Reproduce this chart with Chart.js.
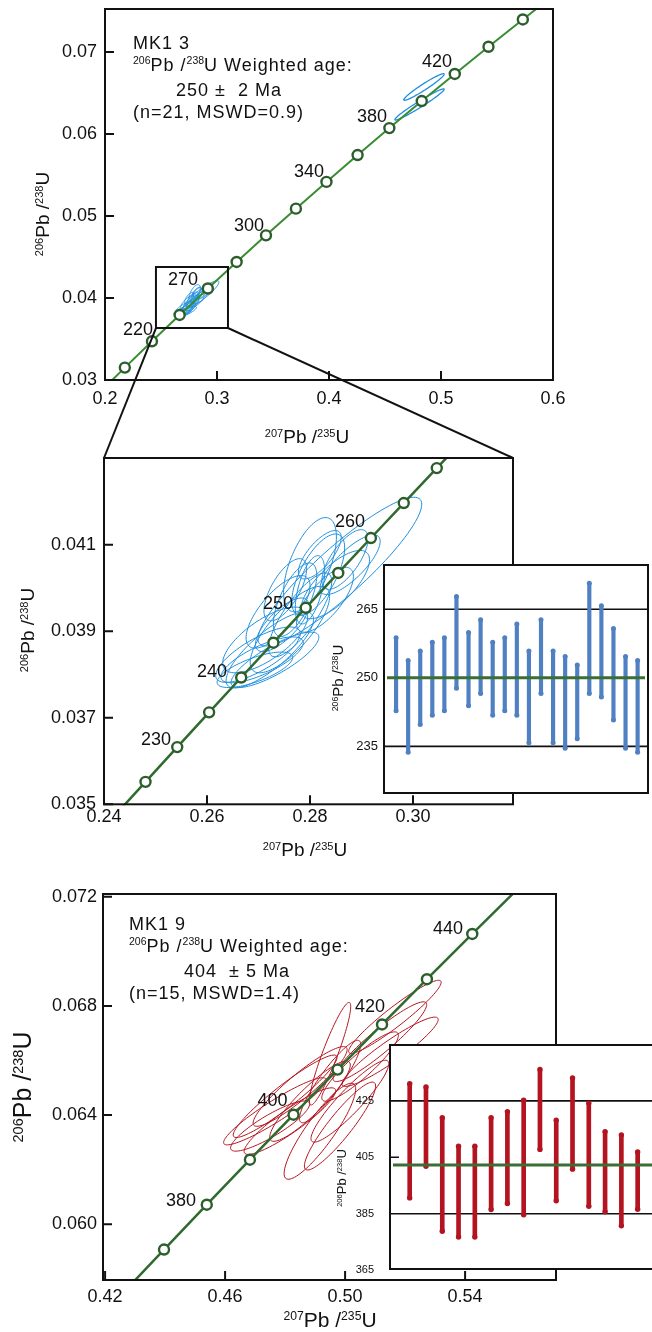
<!DOCTYPE html>
<html>
<head>
<meta charset="utf-8">
<script src="https://cdn.jsdelivr.net/npm/chart.js@4.4.1/dist/chart.umd.min.js"></script>
<style>
html, body { margin: 0; padding: 0; background: #fff; overflow: hidden; }
#page { position: relative; width: 652px; height: 1332px; overflow: hidden; font-family: "Liberation Sans", Arial, sans-serif; color: #111; }
canvas { position: absolute; }
svg { position: absolute; left: 0; top: 0; }
.note { position: absolute; white-space: nowrap; font-size: 18px; line-height: 22.3px; letter-spacing: 1px; }
.s { font-size: 10.5px; position: relative; top: -7px; letter-spacing: 0; }
.ax { position: absolute; white-space: nowrap; line-height: 1; transform: translate(-50%, -50%); }
.ax.r { transform: translate(-50%, -50%) rotate(-90deg); }
.ax .s { font-size: 0.58em; top: -0.55em; }
</style>
</head>
<body>
<div id="page">
  <canvas id="cTop" width="652" height="440" style="left:0;top:0"></canvas>
  <canvas id="cMid" width="652" height="440" style="left:0;top:440px"></canvas>
  <canvas id="cBot" width="652" height="452" style="left:0;top:880px"></canvas>
  <canvas id="cMidIn" width="352" height="260" style="left:300px;top:550px"></canvas>
  <canvas id="cBotIn" width="362" height="250" style="left:300px;top:1030px"></canvas>
  <svg id="zoomLines" width="652" height="1332"></svg>

  <div class="note" style="left:133px;top:32px">MK1 3<br><span class="s">206</span>Pb /<span class="s">238</span>U Weighted age:<br><span style="padding-left:43px">250 ±&nbsp; 2 Ma</span><br>(n=21, MSWD=0.9)</div>
  <div class="note" style="left:129px;top:913px">MK1 9<br><span class="s">206</span>Pb /<span class="s">238</span>U Weighted age:<br><span style="padding-left:55px">404 &nbsp;± 5 Ma</span><br>(n=15, MSWD=1.4)</div>

  <div class="ax" style="left:307px;top:436px;font-size:19px"><span class="s">207</span>Pb /<span class="s">235</span>U</div>
  <div class="ax r" style="left:42px;top:214px;font-size:19px"><span class="s">206</span>Pb /<span class="s">238</span>U</div>
  <div class="ax" style="left:305px;top:849px;font-size:19px"><span class="s">207</span>Pb /<span class="s">235</span>U</div>
  <div class="ax r" style="left:27px;top:630px;font-size:19px"><span class="s">206</span>Pb /<span class="s">238</span>U</div>
  <div class="ax" style="left:330px;top:1319px;font-size:21px"><span class="s">207</span>Pb /<span class="s">235</span>U</div>
  <div class="ax r" style="left:22px;top:1087px;font-size:25px"><span class="s">206</span>Pb /<span class="s">238</span>U</div>
  <div class="ax r" style="left:337px;top:678px;font-size:15px"><span class="s">206</span>Pb /<span class="s">238</span>U</div>
  <div class="ax r" style="left:341px;top:1178px;font-size:13px"><span class="s">206</span>Pb /<span class="s">238</span>U</div>
</div>

<script>
// concordia points (207Pb/235U, 206Pb/238U) at the marked ages
var topCurveX = [0.19396, 0.21771, 0.24192, 0.26664, 0.29183, 0.31753, 0.34374, 0.37047, 0.39773, 0.42553, 0.45389, 0.48281, 0.51231, 0.54239, 0.57307, 0.60436];
var topCurveY = [0.028317, 0.031511, 0.034717, 0.037932, 0.041157, 0.044392, 0.047638, 0.050892, 0.054158, 0.057433, 0.060719, 0.064015, 0.067321, 0.070637, 0.073965, 0.077301];
var midCurveX = [0.24192, 0.24806, 0.25422, 0.26041, 0.26664, 0.27289, 0.27917, 0.28549, 0.29183, 0.29821, 0.30462, 0.31106];
var midCurveY = [0.034717, 0.035519, 0.036323, 0.037126, 0.037932, 0.038737, 0.039543, 0.040349, 0.041157, 0.041965, 0.042773, 0.043582];
var botCurveX = [0.42553, 0.43964, 0.45389, 0.46828, 0.48281, 0.49749, 0.51231, 0.52728, 0.54239, 0.55766, 0.57307];
var botCurveY = [0.057433, 0.059075, 0.060719, 0.062366, 0.064015, 0.065668, 0.067321, 0.068978, 0.070637, 0.072299, 0.073965];

// age labels on the curves
var topLabels = ['220', '270', '300', '340', '380', '420'];
var topLabelX = [0.2295, 0.2696, 0.3286, 0.3821, 0.4384, 0.4964];
var topLabelY = [0.0361, 0.0422, 0.04878, 0.05537, 0.06207, 0.06878];
var midLabels = ['230', '240', '250', '260'];
var midLabelX = [0.2501, 0.26097, 0.27379, 0.28777];
var midLabelY = [0.03649, 0.03806, 0.03964, 0.04153];
var botLabels = ['380', '400', '420', '440'];
var botLabelX = [0.4453, 0.4758, 0.5083, 0.5343];
var botLabelY = [0.06087, 0.06451, 0.06796, 0.0708];

// MK13 error ellipses: centre, half widths, rho
var mkAX = [0.2858, 0.2800, 0.2816, 0.2752, 0.2738, 0.2713, 0.2699, 0.2707, 0.2722, 0.2761, 0.2781, 0.2849, 0.2878, 0.2829, 0.2771, 0.2800, 0.2746, 0.2693, 0.2732, 0.2819, 0.2868];
var mkAY = [0.04038, 0.04054, 0.04031, 0.03996, 0.03945, 0.03880, 0.03846, 0.03834, 0.03857, 0.03904, 0.03938, 0.04008, 0.04054, 0.03973, 0.03973, 0.03996, 0.03915, 0.03811, 0.03834, 0.04077, 0.04066];
var mkASX = [0.01590, 0.00513, 0.00513, 0.00414, 0.00621, 0.00825, 0.00821, 0.00800, 0.00849, 0.00771, 0.00612, 0.00666, 0.00583, 0.00553, 0.00421, 0.00285, 0.00518, 0.00734, 0.00852, 0.00416, 0.00449];
var mkASY = [0.00172, 0.00109, 0.00094, 0.00072, 0.00084, 0.00076, 0.00064, 0.00053, 0.00088, 0.00100, 0.00097, 0.00079, 0.00069, 0.00075, 0.00085, 0.00079, 0.00062, 0.00041, 0.00064, 0.00056, 0.00069];
var mkARho = [0.905, 0.588, 0.657, 0.673, 0.719, 0.703, 0.757, 0.742, 0.803, 0.765, 0.797, 0.724, 0.782, 0.719, 0.659, 0.540, 0.724, 0.700, 0.818, 0.718, 0.703];
// two older grains near 400-420 Ma
var oldX = [0.4848, 0.4808];
var oldY = [0.06573, 0.0636];
var oldSX = [0.0180, 0.0220];
var oldSY = [0.00162, 0.0019];
var oldRho = [0.963, 0.974];
// MK19 error ellipses
var mkBX = [0.4800, 0.4766, 0.4850, 0.4883, 0.4816, 0.4916, 0.4983, 0.4950, 0.4950, 0.5116, 0.5166, 0.5150, 0.5050, 0.4750, 0.5016];
var mkBY = [0.06469, 0.06414, 0.06505, 0.06451, 0.06378, 0.06341, 0.06360, 0.06523, 0.06625, 0.06669, 0.06760, 0.06632, 0.06578, 0.06360, 0.06451];
var mkBSX = [0.01730, 0.01710, 0.01567, 0.01343, 0.01527, 0.01193, 0.01187, 0.01020, 0.00687, 0.01560, 0.01543, 0.01603, 0.01277, 0.01317, 0.01297];
var mkBSY = [0.00151, 0.00123, 0.00146, 0.00147, 0.00122, 0.00176, 0.00161, 0.00151, 0.00188, 0.00146, 0.00134, 0.00127, 0.00127, 0.00092, 0.00150];
var mkBRho = [0.940, 0.930, 0.920, 0.900, 0.910, 0.880, 0.910, 0.900, 0.920, 0.930, 0.945, 0.930, 0.900, 0.870, 0.915];

// zoom box drawn on the upper plot
var zoomBoxX = [0.2455, 0.3098];
var zoomBoxY = [0.03634, 0.04378];

// 206Pb/238U ages (Ma), error bar ends
var mkALo = [242.8, 233.7, 239.8, 241.8, 242.8, 247.7, 243.9, 246.6, 241.8, 242.8, 241.8, 235.8, 246.6, 235.8, 234.6, 236.7, 246.6, 245.8, 240.8, 234.6, 233.7];
var mkAHi = [258.8, 253.8, 255.9, 257.8, 258.8, 267.8, 259.9, 262.7, 257.8, 258.8, 261.8, 255.9, 262.7, 255.9, 254.7, 252.8, 270.7, 265.8, 260.8, 254.7, 253.8];
var mkBLo = [390.6, 401.8, 378.8, 376.7, 376.7, 386.5, 388.6, 384.6, 407.8, 389.6, 400.8, 387.6, 385.7, 380.7, 386.6];
var mkBHi = [431.1, 429.9, 419.0, 408.9, 408.9, 419.0, 421.2, 425.2, 436.1, 418.1, 433.1, 424.2, 414.1, 412.9, 406.9];
var mkAMean = 250;
var mkBMean = 402.3;

// tick values
var topXTicks = [0.2, 0.3, 0.4, 0.5, 0.6];
var topYTicks = [0.03, 0.04, 0.05, 0.06, 0.07];
var midXTicks = [0.24, 0.26, 0.28, 0.30];
var midYTicks = [0.035, 0.037, 0.039, 0.041];
var botXTicks = [0.42, 0.46, 0.50, 0.54];
var botYTicks = [0.060, 0.064, 0.068, 0.072];
var mkATicks = [235, 250, 265];
var mkBTicks = [365, 385, 405, 425];

Chart.defaults.font.family = '"Liberation Sans", Arial, sans-serif';
Chart.defaults.color = '#111';

function drawEllipses(ctx, sx, sy, set) {
    ctx.strokeStyle = set.color;
    ctx.lineWidth = set.width;
    for (var i = 0; i < set.x.length; i++) {
        var r = set.rho[i], q = Math.sqrt(1 - r * r);
        ctx.beginPath();
        for (var k = 0; k <= 96; k++) {
            var t = k / 96 * 2 * Math.PI, c = Math.cos(t), s = Math.sin(t);
            var px = sx.getPixelForValue(set.x[i] + set.sx[i] * c);
            var py = sy.getPixelForValue(set.y[i] + set.sy[i] * (r * c + q * s));
            if (k) ctx.lineTo(px, py); else ctx.moveTo(px, py);
        }
        ctx.closePath();
        ctx.stroke();
    }
}

// ellipses under the curve, frame + inner ticks + age labels on top
function panelPlugin(p) {
    return {
        id: 'panel',
        beforeDatasetsDraw: function (chart) {
            var ctx = chart.ctx, a = chart.chartArea;
            ctx.save();
            ctx.beginPath();
            ctx.rect(a.left, a.top, a.right - a.left, a.bottom - a.top);
            ctx.clip();
            p.ellipses.forEach(function (set) { drawEllipses(ctx, chart.scales.x, chart.scales.y, set); });
            ctx.restore();
        },
        afterDatasetsDraw: function (chart) {
            var ctx = chart.ctx, a = chart.chartArea, x = chart.scales.x, y = chart.scales.y;
            ctx.save();
            ctx.fillStyle = '#111';
            ctx.font = '18px "Liberation Sans", Arial, sans-serif';
            ctx.textAlign = 'center';
            ctx.textBaseline = 'middle';
            p.labels.forEach(function (t, i) {
                ctx.fillText(t, x.getPixelForValue(p.labelX[i]), y.getPixelForValue(p.labelY[i]));
            });
            ctx.strokeStyle = '#111';
            ctx.lineWidth = 2;
            ctx.strokeRect(a.left, a.top, a.right - a.left, a.bottom - a.top);
            ctx.beginPath();
            p.xTicks.forEach(function (v) {
                var px = x.getPixelForValue(v);
                ctx.moveTo(px, a.bottom); ctx.lineTo(px, a.bottom - 9);
            });
            p.yTicks.forEach(function (v) {
                var py = y.getPixelForValue(v);
                ctx.moveTo(a.left, py); ctx.lineTo(a.left + 9, py);
            });
            ctx.stroke();
            if (p.box) {
                var x0 = x.getPixelForValue(p.box.x[0]), x1 = x.getPixelForValue(p.box.x[1]);
                var y0 = y.getPixelForValue(p.box.y[0]), y1 = y.getPixelForValue(p.box.y[1]);
                ctx.strokeRect(x0, y1, x1 - x0, y0 - y1);
            }
            ctx.restore();
        }
    };
}

function mainChart(id, p) {
    return new Chart(document.getElementById(id), {
        type: 'line',
        data: {
            datasets: [{
                data: p.curveX.map(function (v, i) { return { x: v, y: p.curveY[i] }; }),
                borderColor: p.lineColor,
                borderWidth: p.lineWidth,
                pointRadius: 5,
                pointBorderWidth: 2.4,
                pointBackgroundColor: '#fff',
                pointBorderColor: '#2b5e2b',
                tension: 0,
                clip: 1
            }]
        },
        options: {
            responsive: false,
            animation: false,
            events: [],
            layout: { padding: p.pad },
            plugins: { legend: { display: false }, tooltip: { enabled: false } },
            scales: {
                x: {
                    type: 'linear', min: p.xMin, max: p.xMax,
                    grid: { display: false, drawTicks: false },
                    border: { display: false },
                    ticks: { padding: p.xPad, font: { size: 18 }, color: '#111', maxRotation: 0, autoSkip: false,
                        callback: function (v) { return v.toFixed(p.xDec); } },
                    afterBuildTicks: function (s) { s.ticks = p.xTicks.map(function (v) { return { value: v }; }); },
                    afterFit: function (s) { s.height = 30; s.paddingLeft = 0; s.paddingRight = 0; }
                },
                y: {
                    type: 'linear', min: p.yMin, max: p.yMax,
                    grid: { display: false, drawTicks: false },
                    border: { display: false },
                    ticks: { padding: p.yPad, font: { size: 18 }, color: '#111', autoSkip: false,
                        callback: function (v) { return v.toFixed(p.yDec); } },
                    afterBuildTicks: function (s) { s.ticks = p.yTicks.map(function (v) { return { value: v }; }); },
                    afterFit: function (s) { s.width = p.yWidth; s.paddingTop = 0; s.paddingBottom = 0; }
                }
            }
        },
        plugins: [panelPlugin(p)]
    });
}

function insetPlugin(p) {
    return {
        id: 'inset',
        beforeDraw: function (chart) {
            var a = chart.chartArea, ctx = chart.ctx;
            ctx.save();
            ctx.fillStyle = '#fff';
            ctx.fillRect(a.left, a.top, a.right - a.left, a.bottom - a.top);
            ctx.restore();
        },
        beforeDatasetsDraw: function (chart) {
            var a = chart.chartArea, ctx = chart.ctx, y = chart.scales.y;
            ctx.save();
            ctx.strokeStyle = '#111';
            ctx.lineWidth = 1.6;
            ctx.beginPath();
            p.gridAt.forEach(function (v) {
                var py = y.getPixelForValue(v);
                ctx.moveTo(a.left, py); ctx.lineTo(a.right, py);
            });
            p.tickAt.forEach(function (v) {
                var py = y.getPixelForValue(v);
                ctx.moveTo(a.left, py); ctx.lineTo(a.left + 9, py);
            });
            ctx.stroke();
            ctx.restore();
        },
        afterDatasetsDraw: function (chart) {
            var a = chart.chartArea, ctx = chart.ctx, y = chart.scales.y;
            ctx.save();
            var py = y.getPixelForValue(p.mean);
            ctx.strokeStyle = '#3b6e34';
            ctx.lineWidth = 3;
            ctx.beginPath();
            ctx.moveTo(a.left + 3, py); ctx.lineTo(a.right - 3, py);
            ctx.stroke();
            ctx.strokeStyle = '#111';
            ctx.lineWidth = 2;
            ctx.strokeRect(a.left, a.top, a.right - a.left, a.bottom - a.top);
            ctx.restore();
        }
    };
}

function insetChart(id, p) {
    var caps = [];
    p.lo.forEach(function (v, i) { caps.push({ x: i + 1, y: v }, { x: i + 1, y: p.hi[i] }); });
    return new Chart(document.getElementById(id), {
        type: 'bar',
        data: {
            datasets: [{
                type: 'bar',
                data: p.lo.map(function (v, i) { return { x: i + 1, y: [v, p.hi[i]] }; }),
                backgroundColor: p.color,
                borderWidth: 0,
                barThickness: p.barW
            }, {
                type: 'line',
                data: caps,
                showLine: false,
                pointRadius: p.capR,
                pointBorderWidth: 0,
                pointBackgroundColor: p.color
            }]
        },
        options: {
            responsive: false,
            animation: false,
            events: [],
            layout: { padding: p.pad },
            plugins: { legend: { display: false }, tooltip: { enabled: false } },
            scales: {
                x: { type: 'linear', display: false, offset: false, min: p.xMin, max: p.xMax },
                y: {
                    type: 'linear', min: p.yMin, max: p.yMax,
                    grid: { display: false, drawTicks: false },
                    border: { display: false },
                    ticks: { padding: p.yPad, font: { size: p.fontSize }, color: '#111', autoSkip: false },
                    afterBuildTicks: function (s) { s.ticks = p.ticks.map(function (v) { return { value: v }; }); },
                    afterFit: function (s) { s.width = p.yWidth; s.paddingTop = 0; s.paddingBottom = 0; }
                }
            }
        },
        plugins: [insetPlugin(p)]
    });
}

var blue = '#1f8fdc';
var red = '#b3141f';
var mkASet = { x: mkAX, y: mkAY, sx: mkASX, sy: mkASY, rho: mkARho, color: blue, width: 1 };

var topChart = mainChart('cTop', {
    curveX: topCurveX, curveY: topCurveY, lineColor: '#3a8c33', lineWidth: 2,
    xMin: 0.2, xMax: 0.6, yMin: 0.03, yMax: 0.07524,
    xTicks: topXTicks, yTicks: topYTicks, xDec: 1, yDec: 2, xPad: 8, yPad: 8, yWidth: 105,
    pad: { left: 0, top: 9, right: 99, bottom: 30 },
    labels: topLabels, labelX: topLabelX, labelY: topLabelY,
    ellipses: [mkASet, { x: oldX, y: oldY, sx: oldSX, sy: oldSY, rho: oldRho, color: blue, width: 1.3 }],
    box: { x: zoomBoxX, y: zoomBoxY }
});

var midChart = mainChart('cMid', {
    curveX: midCurveX, curveY: midCurveY, lineColor: '#2f6a2f', lineWidth: 2.5,
    xMin: 0.24, xMax: 0.31942, yMin: 0.035, yMax: 0.043007,
    xTicks: midXTicks, yTicks: midYTicks, xDec: 2, yDec: 3, xPad: 2, yPad: 8, yWidth: 104,
    pad: { left: 0, top: 18, right: 139, bottom: 45.7 },
    labels: midLabels, labelX: midLabelX, labelY: midLabelY,
    ellipses: [mkASet]
});

var botChart = mainChart('cBot', {
    curveX: botCurveX, curveY: botCurveY, lineColor: '#2f6a2f', lineWidth: 2.5,
    xMin: 0.4193, xMax: 0.5703, yMin: 0.05796, yMax: 0.0721,
    xTicks: botXTicks, yTicks: botYTicks, xDec: 2, yDec: 3, xPad: 6, yPad: 6, yWidth: 103,
    pad: { left: 0, top: 14, right: 96, bottom: 22 },
    labels: botLabels, labelX: botLabelX, labelY: botLabelY,
    ellipses: [{ x: mkBX, y: mkBY, sx: mkBSX, sy: mkBSY, rho: mkBRho, color: red, width: 1 }]
});

insetChart('cMidIn', {
    lo: mkALo, hi: mkAHi, mean: mkAMean, color: '#4f80c2', barW: 3.5, capR: 2.5,
    xMin: 0, xMax: 21.86, yMin: 224.8, yMax: 274.7,
    ticks: mkATicks, gridAt: [235, 265], tickAt: [],
    yPad: 6, fontSize: 13, yWidth: 84,
    pad: { left: 0, top: 15, right: 2, bottom: 17 }
});

insetChart('cBotIn', {
    lo: mkBLo, hi: mkBHi, mean: mkBMean, color: red, barW: 4, capR: 2.7,
    xMin: -0.21, xMax: 16.25, yMin: 365.4, yMax: 444.8,
    ticks: mkBTicks, gridAt: [385, 425], tickAt: [405],
    yPad: 16, fontSize: 11, yWidth: 90,
    pad: { left: 0, top: 15, right: 0, bottom: 11 }
});

// lines joining the zoom box to the enlarged plot
var bx0 = topChart.scales.x.getPixelForValue(zoomBoxX[0]);
var bx1 = topChart.scales.x.getPixelForValue(zoomBoxX[1]);
var by = topChart.scales.y.getPixelForValue(zoomBoxY[0]);
var m = midChart.chartArea;
document.getElementById('zoomLines').innerHTML =
    '<line x1="' + bx0 + '" y1="' + by + '" x2="' + m.left + '" y2="' + (m.top + 440) + '" stroke="#111" stroke-width="2"/>' +
    '<line x1="' + bx1 + '" y1="' + by + '" x2="' + m.right + '" y2="' + (m.top + 440) + '" stroke="#111" stroke-width="2"/>';
</script>
</body>
</html>
